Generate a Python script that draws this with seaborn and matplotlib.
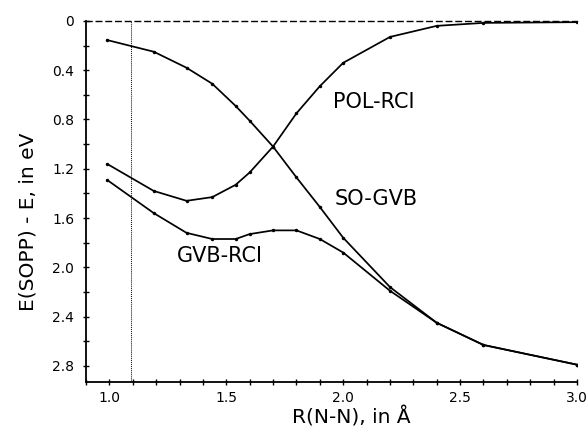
import seaborn as sns
import matplotlib.pyplot as plt
import numpy as np
import pandas as pd

sns.set_style("ticks", {'text.color': 'black', 'axes.labelcolor': 'black',
                        'xtick.color': 'black', 'ytick.color': 'black',
                        'axes.edgecolor': 'black'})
plt.rcParams['font.family'] = ['DejaVu Sans']

# N-N distance (Angstrom) for every computed point
r_nn = [0.99, 1.19, 1.33, 1.44, 1.54, 1.60, 1.70, 1.80, 1.90, 2.00, 2.20, 2.40, 2.60, 3.00]

# E(SOPP) - E in eV
so_gvb = [0.155, 0.25, 0.38, 0.51, 0.69, 0.81, 1.02, 1.27, 1.51, 1.76, 2.16, 2.45, 2.63, 2.79]
pol_rci = [1.16, 1.38, 1.46, 1.43, 1.33, 1.23, 1.02, 0.75, 0.53, 0.34, 0.13, 0.04, 0.016, 0.01]
gvb_rci = [1.29, 1.56, 1.72, 1.77, 1.77, 1.73, 1.70, 1.70, 1.77, 1.88, 2.19, 2.45, 2.63, 2.79]

r_eq = 1.092  # dotted vertical line

data = pd.DataFrame({
    'R': r_nn * 3,
    'E': so_gvb + pol_rci + gvb_rci,
    'method': ['SO-GVB'] * len(r_nn) + ['POL-RCI'] * len(r_nn) + ['GVB-RCI'] * len(r_nn),
})

fig = plt.figure(figsize=(5.87, 4.36), dpi=100)
ax = fig.add_axes([0.1465, 0.124, 0.8365, 0.828])

sns.lineplot(data=data, x='R', y='E', units='method', estimator=None,
             color='black', linewidth=1.25, marker='o', markersize=2.5,
             markeredgewidth=0, ax=ax, legend=False)

ax.axvline(r_eq, color='black', linewidth=0.7, linestyle=(0, (1, 1)))

ax.set_xlim(0.9, 3.0)
ax.set_ylim(2.93, 0)
ax.set_xticks([1.0, 1.5, 2.0, 2.5, 3.0])
ax.set_xticks(np.arange(0.9, 3.01, 0.1), minor=True)
ax.set_yticks([0, 0.4, 0.8, 1.2, 1.6, 2.0, 2.4, 2.8])
ax.set_yticklabels(['0', '0.4', '0.8', '1.2', '1.6', '2.0', '2.4', '2.8'])
ax.set_yticks(np.arange(0.2, 2.9, 0.4), minor=True)
ax.tick_params(axis='both', which='major', direction='inout', length=5, width=1,
               labelsize=10)
ax.tick_params(axis='y', which='major', pad=6)
ax.tick_params(axis='x', which='major', pad=4)
ax.tick_params(axis='both', which='minor', direction='inout', length=4, width=1)

ax.spines['right'].set_visible(False)
ax.spines['top'].set_linestyle((0, (4, 3)))
ax.spines['top'].set_linewidth(1)
ax.spines['left'].set_linewidth(1.3)
ax.spines['bottom'].set_linewidth(1.3)

ax.set_xlabel('R(N-N), in Å', fontsize=14.5)
ax.set_ylabel('E(SOPP) - E, in eV', fontsize=14.5)
ax.xaxis.set_label_coords(0.54, -0.068)
ax.yaxis.set_label_coords(-0.098, 0.443)

ax.text(2.132, 0.661, 'POL-RCI', fontsize=15, ha='center', va='center')
ax.text(2.140, 1.449, 'SO-GVB', fontsize=15, ha='center', va='center')
ax.text(1.473, 1.907, 'GVB-RCI', fontsize=15, ha='center', va='center')

plt.savefig('out.png', dpi=100)
plt.close()
